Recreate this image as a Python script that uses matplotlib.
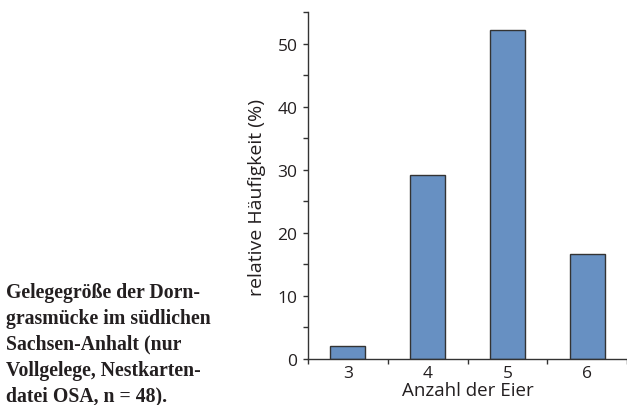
import matplotlib
matplotlib.use("Agg")
import matplotlib.pyplot as plt
from matplotlib.ticker import MultipleLocator, FixedLocator, NullFormatter

# Gelegegröße: Anteil der Gelege (%)
eier = [3, 4, 5, 6]
anteil = [2.1, 29.2, 52.1, 16.7]
yticks = [0, 10, 20, 30, 40, 50]

plt.rcParams['font.family'] = ['Open Sans', 'DejaVu Sans']
ink = '#231f20'

fig = plt.figure(figsize=(6.27, 4.06), dpi=100)
ax = fig.add_axes([308 / 627, 46 / 406, 1 - 308 / 627, (360 - 13) / 406])

ax.bar(eier, anteil, width=0.44, color='#6790c2', edgecolor='#333333', linewidth=1.0)

ax.set_xlim(2.5, 6.5)
ax.set_ylim(0, 55)
ax.set_yticks(yticks)
ax.yaxis.set_minor_locator(MultipleLocator(5))
ax.set_xticks(eier)
ax.tick_params(axis='x', which='major', length=0, labelsize=12.5, colors=ink, pad=4)
ax.xaxis.set_minor_locator(FixedLocator([2.5, 3.5, 4.5, 5.5, 6.5]))
ax.xaxis.set_minor_formatter(NullFormatter())
ax.tick_params(axis='x', which='minor', length=3.6, width=1, color='#333333', direction='out')
ax.tick_params(axis='y', which='both', length=3.6, width=1, color='#333333', labelsize=12.5,
               labelcolor=ink, pad=4)

for s in ['top', 'right']:
    ax.spines[s].set_visible(False)
for s in ['left', 'bottom']:
    ax.spines[s].set_color('#333333')
    ax.spines[s].set_linewidth(1.0)

ax.set_ylabel('relative Häufigkeit (%)', fontsize=14, color=ink)
ax.yaxis.set_label_coords(-0.132, 0.467)
ax.set_xlabel('Anzahl der Eier', fontsize=13.5, color=ink, labelpad=0)

caption = ("Gelegegröße der Dorn-\n"
           "grasmücke im südlichen\n"
           "Sachsen-Anhalt (nur\n"
           "Vollgelege, Nestkarten-\n"
           "datei OSA, n = 48).")
fig.text(6 / 627, 1 - 283 / 406, caption, family='Liberation Serif', fontweight='bold',
         fontsize=14.2, color=ink, va='top', ha='left', linespacing=1.39)

fig.savefig('out.png', dpi=100)
